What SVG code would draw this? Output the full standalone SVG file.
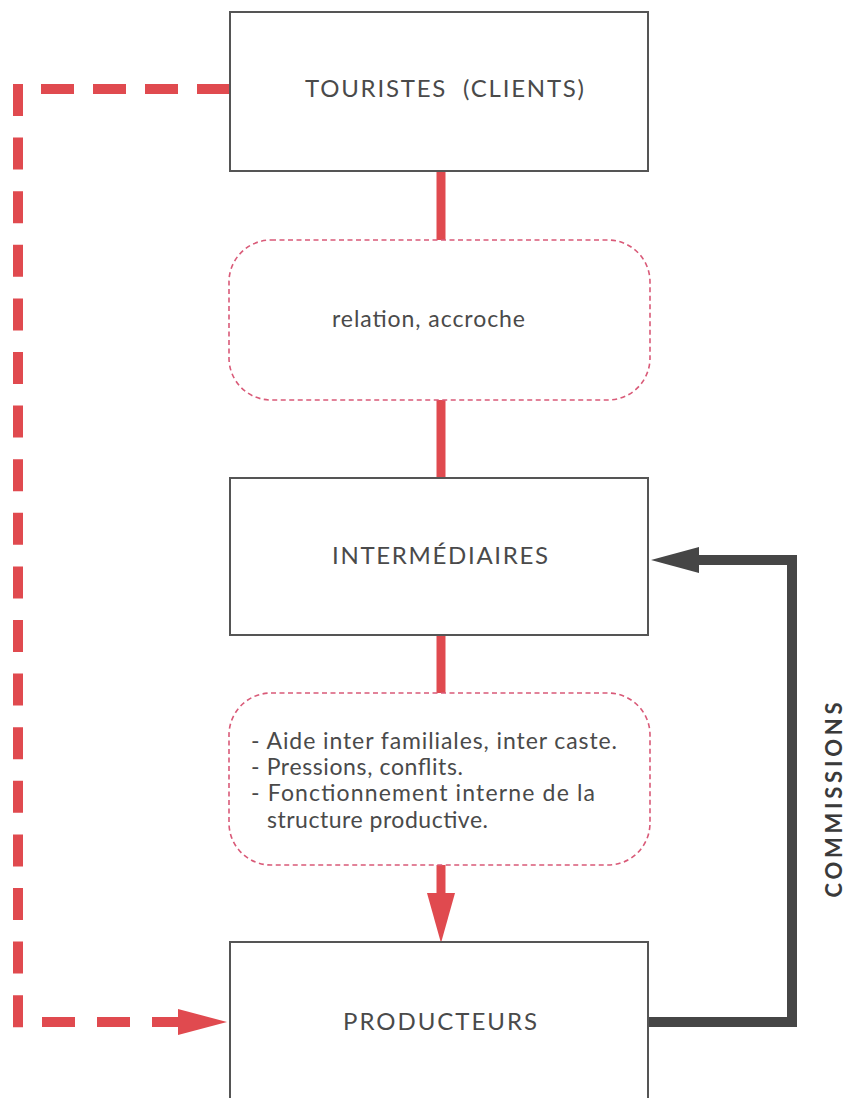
<svg xmlns="http://www.w3.org/2000/svg" width="848" height="1098" viewBox="0 0 848 1098">
<defs>
<style>
.box{fill:#fff;stroke:#555;stroke-width:2}
.bubble{fill:#fff;stroke:#d95a78;stroke-width:1.6;stroke-dasharray:5 3.5}
.lbl{font-family:Lato,"Open Sans",sans-serif;font-size:24px;fill:#4a4a4a;text-anchor:middle}
.txt{font-family:Lato,"Open Sans",sans-serif;font-size:23px;fill:#4a4a4a}
.red{stroke:#e04a4f;stroke-width:9;fill:none}
.reddash{stroke:#e04a4f;stroke-width:10;fill:none}
.dark{stroke:#464646;stroke-width:10;fill:none}
</style>
</defs>
<g id="connectors">
<line class="reddash" x1="230" y1="89" x2="40" y2="89" stroke-dasharray="33 19"/>
<line class="reddash" x1="18" y1="84" x2="18" y2="1027.2" stroke-dasharray="32 21.6"/>
<line class="reddash" x1="42" y1="1022" x2="182" y2="1022" stroke-dasharray="33 22"/>
<polygon points="227,1022 178,1009 178,1035" fill="#e04a4f"/>
<line class="red" x1="441" y1="171" x2="441" y2="240"/>
<line class="red" x1="441" y1="400" x2="441" y2="478"/>
<line class="red" x1="441" y1="635" x2="441" y2="693"/>
<line class="red" x1="441" y1="865" x2="441" y2="900"/>
<polygon points="441,943 427,893 455,893" fill="#e04a4f"/>
<path class="dark" d="M648 1022 H792 V560 H692"/>
<polygon points="651,560 699,547 699,573" fill="#464646"/>
<text transform="translate(833,800) rotate(-90)" font-family="Lato,'Open Sans',sans-serif" font-size="22" font-weight="bold" fill="#3a3a3a" text-anchor="middle" dominant-baseline="central" textLength="195" lengthAdjust="spacing">COMMISSIONS</text>
</g>
<g id="touristes">
<rect class="box" x="230" y="12" width="418" height="159"/>
<text class="lbl" x="444.5" y="97" xml:space="preserve" textLength="279" lengthAdjust="spacing">TOURISTES  (CLIENTS)</text>
</g>
<g id="relation">
<rect class="bubble" x="229" y="240" width="421" height="160" rx="42" ry="42"/>
<text class="txt" x="428.5" y="327" text-anchor="middle" font-size="21.5" textLength="193" lengthAdjust="spacing">relation, accroche</text>
</g>
<g id="intermediaires">
<rect class="box" x="230" y="478" width="418" height="157"/>
<text class="lbl" x="440" y="564" textLength="216" lengthAdjust="spacing">INTERMÉDIAIRES</text>
</g>
<g id="aide">
<rect class="bubble" x="229" y="693" width="421" height="172" rx="42" ry="42"/>
<text class="txt" x="251" y="749" textLength="366" lengthAdjust="spacing">- Aide inter familiales, inter caste.</text>
<text class="txt" x="251" y="775" textLength="212" lengthAdjust="spacing">- Pressions, conflits.</text>
<text class="txt" x="251" y="801" textLength="344" lengthAdjust="spacing">- Fonctionnement interne de la</text>
<text class="txt" x="267" y="828" textLength="221" lengthAdjust="spacing">structure productive.</text>
</g>
<g id="producteurs">
<rect class="box" x="230" y="942" width="418" height="170"/>
<text class="lbl" x="440" y="1030" textLength="194" lengthAdjust="spacing">PRODUCTEURS</text>
</g>
</svg>
